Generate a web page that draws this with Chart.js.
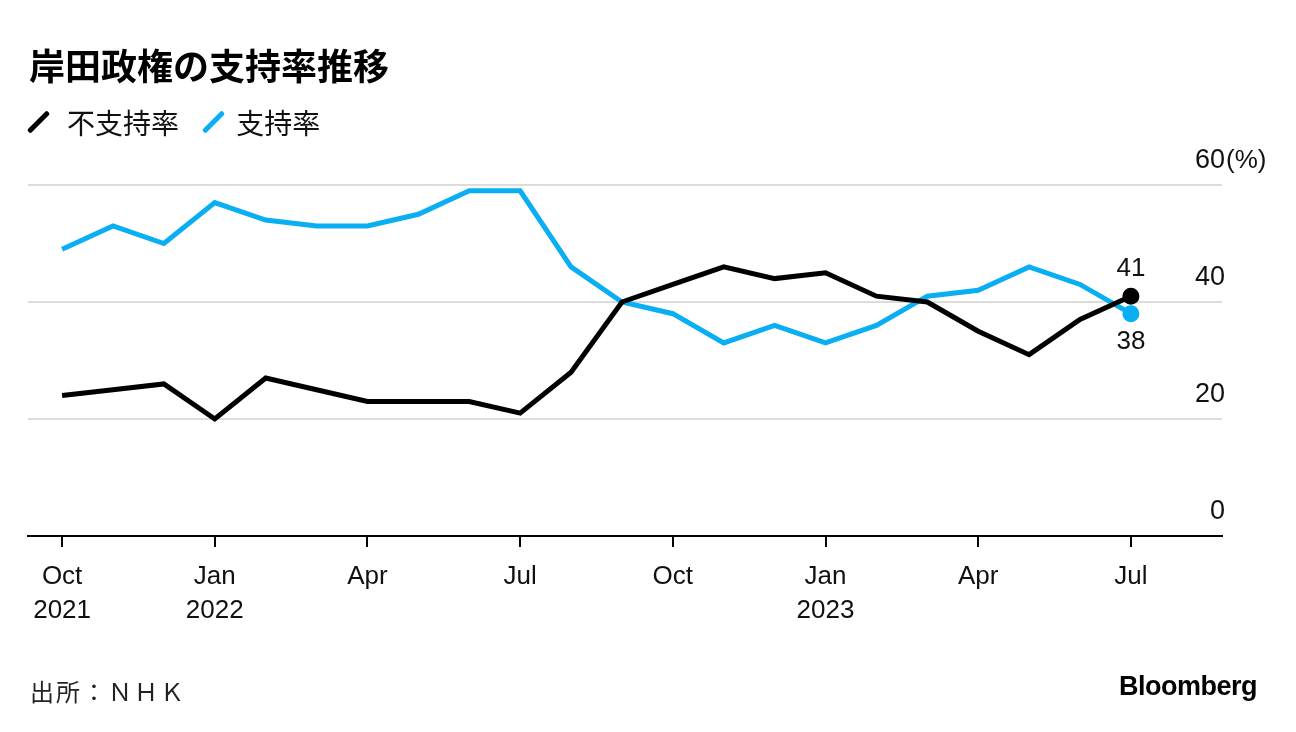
<!DOCTYPE html>
<html>
<head>
<meta charset="utf-8">
<script src="https://cdn.jsdelivr.net/npm/chart.js@4"></script>
<style>
  body { margin: 0; background: #fff; font-family: "Liberation Sans", "Noto Sans CJK JP", sans-serif; color: #111; }
  #wrap { position: relative; width: 1296px; height: 732px; overflow: hidden; }
  #c { position: absolute; left: 0; top: 0; }
  .title { position: absolute; left: 29px; top: 38px; font: bold 36px "Noto Sans CJK JP", sans-serif; color: #000; }
  .legend { position: absolute; left: 32px; top: 98px; font: 28px "Noto Sans CJK JP", sans-serif; color: #111; }
  .legend span { display: inline-block; vertical-align: middle; }
  .mark { width: 5px; height: 28px; transform: rotate(45deg); margin: 0 26px 0 4px; border-radius: 2px; }
  .src { position: absolute; left: 30px; top: 673px; font: 24px "Noto Sans CJK JP", sans-serif; color: #222; letter-spacing: 2px; }
  .logo { position: absolute; right: 39px; top: 671px; font: bold 27px "Liberation Sans", sans-serif; color: #000; letter-spacing: -0.5px; }
</style>
</head>
<body>
<div id="wrap">
  <canvas id="c" width="1296" height="732"></canvas>
  <div class="title">岸田政権の支持率推移</div>
  <div class="legend">
    <span class="mark" style="background:#000"></span><span>不支持率</span>
    <span class="mark" style="background:#0aaef2;margin-left:26px;margin-right:20px"></span><span>支持率</span>
  </div>
  <div class="src">出所：ＮＨＫ</div>
  <div class="logo">Bloomberg</div>
</div>
<script>
// monthly, Oct 2021 .. Jul 2023
var months = ['2021-10','2021-11','2021-12','2022-01','2022-02','2022-03','2022-04','2022-05','2022-06','2022-07','2022-08','2022-09',
              '2022-10','2022-11','2022-12','2023-01','2023-02','2023-03','2023-04','2023-05','2023-06','2023-07'];
var disapprove = [24, 25, 26, 20, 27, 25, 23, 23, 23, 21, 28, 40, 43, 46, 44, 45, 41, 40, 35, 31, 37, 41];
var approve    = [49, 53, 50, 57, 54, 53, 53, 55, 59, 59, 46, 40, 38, 33, 36, 33, 36, 41, 42, 46, 43, 38];

var tickPositions = [0, 3, 6, 9, 12, 15, 18, 21];
var tickLabels = [['Oct','2021'], ['Jan','2022'], ['Apr',''], ['Jul',''], ['Oct',''], ['Jan','2023'], ['Apr',''], ['Jul','']];
var yTicks = [0, 20, 40, 60];

var black = '#000000';
var blue = '#0aaef2';

function pts(arr) {
  return arr.map(function (v, i) { return { x: i, y: v }; });
}
function lastOnly(arr, r) {
  return arr.map(function (v, i) { return i === arr.length - 1 ? r : 0; });
}

// end-of-line value labels and the "(%)" unit
var extras = {
  id: 'extras',
  afterDatasetsDraw: function (chart) {
    var ctx = chart.ctx;
    ctx.save();
    ctx.font = '26px "Liberation Sans", sans-serif';
    ctx.textAlign = 'center';
    ctx.textBaseline = 'middle';
    var m0 = chart.getDatasetMeta(0), m1 = chart.getDatasetMeta(1);
    var p0 = m0.data[m0.data.length - 1], p1 = m1.data[m1.data.length - 1];
    ctx.fillStyle = '#111';
    ctx.fillText(String(disapprove[disapprove.length - 1]), p0.x, p0.y - 27);
    ctx.fillText(String(approve[approve.length - 1]), p1.x, p1.y + 28);

    var y = chart.scales.y;
    ctx.textAlign = 'left';
    ctx.fillText('(%)', 1226, y.getPixelForValue(60) - 24);
    ctx.restore();
  }
};

new Chart(document.getElementById('c'), {
  type: 'line',
  data: {
    datasets: [{
      label: '不支持率',
      data: pts(disapprove),
      borderColor: black,
      backgroundColor: black,
      borderWidth: 5,
      pointRadius: lastOnly(disapprove, 6),
      pointHoverRadius: 0,
      tension: 0
    }, {
      label: '支持率',
      data: pts(approve),
      borderColor: blue,
      backgroundColor: blue,
      borderWidth: 5,
      pointRadius: lastOnly(approve, 6),
      pointHoverRadius: 0,
      tension: 0
    }]
  },
  options: {
    responsive: false,
    animation: false,
    events: [],
    layout: { padding: { left: 28, right: 74, top: 185, bottom: 96 } },
    plugins: { legend: { display: false }, tooltip: { enabled: false } },
    scales: {
      x: {
        type: 'linear',
        min: -0.67,
        max: 22.79,
        afterBuildTicks: function (scale) {
          scale.ticks = tickPositions.map(function (v) { return { value: v }; });
        },
        afterFit: function (scale) { scale.height = 100; },
        grid: { drawOnChartArea: false, drawTicks: true, tickLength: 11, color: '#000', lineWidth: 2 },
        border: { display: true, color: '#000', width: 2 },
        ticks: {
          autoSkip: false,
          maxRotation: 0,
          padding: 13,
          color: '#111',
          font: { family: '"Liberation Sans", sans-serif', size: 26, lineHeight: 1.3 },
          callback: function (v) {
            var k = tickPositions.indexOf(v);
            return k >= 0 ? tickLabels[k] : '';
          }
        }
      },
      y: {
        position: 'right',
        min: 0,
        max: 60,
        afterBuildTicks: function (scale) {
          scale.ticks = yTicks.map(function (v) { return { value: v }; });
        },
        afterFit: function (scale) { scale.width = 0; },
        grid: { color: '#dcdcdc', lineWidth: 2, drawTicks: false },
        border: { display: false },
        ticks: {
          mirror: true,
          padding: 3,
          labelOffset: -24,
          color: '#111',
          font: { family: '"Liberation Sans", sans-serif', size: 27 }
        }
      }
    }
  },
  plugins: [extras]
});
</script>
</body>
</html>
